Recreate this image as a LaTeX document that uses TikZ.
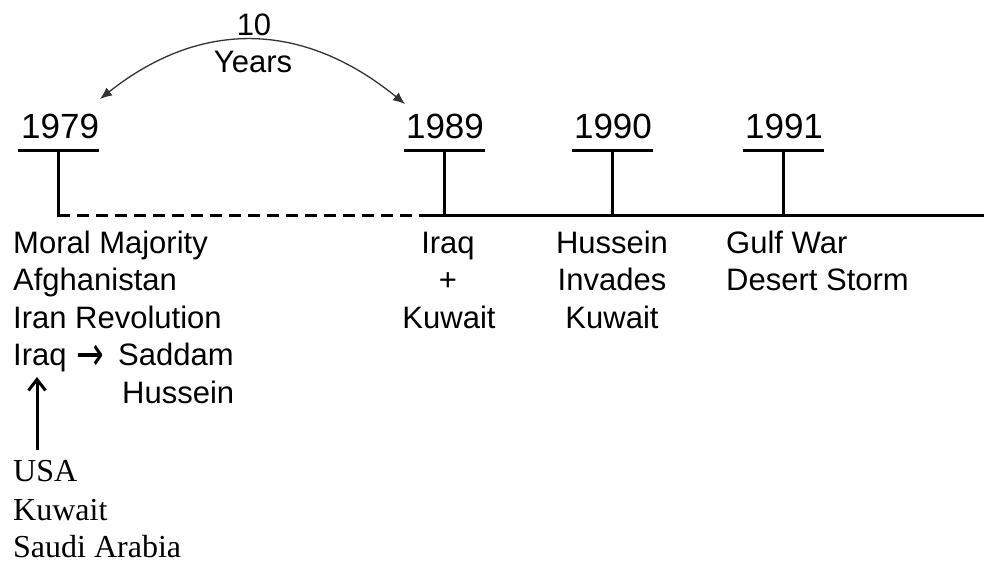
\documentclass[tikz,border=0pt]{standalone}
\usepackage{graphicx}
\usepackage{fontspec}
\setmainfont{Liberation Sans}
\newfontfamily\notesfont{Liberation Serif}
\newfontfamily\symfont{DejaVu Sans}
\usetikzlibrary{arrows.meta}

\begin{document}
\begin{tikzpicture}[x=1pt,y=-1pt,
  axisline/.style={line width=3pt},
  gapline/.style={line width=3pt, dash pattern=on 12pt off 7pt},
  yearlbl/.style={font=\fontsize{35}{40}\selectfont, inner sep=0pt, anchor=base},
  evt/.style={font=\fontsize{31}{37.5}\selectfont, inner sep=0pt, anchor=base},
  note/.style={font=\notesfont\fontsize{32}{38}\selectfont, inner sep=0pt, anchor=base west},
  spanarc/.style={line width=1.3pt, draw=black!80, {Latex[length=12pt,width=10pt]}-{Latex[length=12pt,width=10pt]}},
  uparrow/.style={line width=3pt, -{Straight Barb[length=11pt,width=17pt,line width=3pt]}}
]
\useasboundingbox (0,0) rectangle (984,563);

% axis: dashed gap 1979-1989, solid afterwards
\coordinate (ax0) at (58,215);
\coordinate (axs) at (420,215);
\coordinate (ax1) at (984,215);
\draw[gapline] (ax0) -- (axs);
\draw[axisline] (axs) -- (ax1);

% year ticks
\foreach \nm/\x in {a/58, b/444, c/612, d/783} {
  \coordinate (\nm top) at (\x,150);
  \coordinate (\nm foot) at (\x,216.5);
  \coordinate (\nm barl) at (\x-40,150);
  \coordinate (\nm barr) at (\x+41,150);
  \draw[axisline] (\nm top) -- (\nm foot);
  \draw[axisline] (\nm barl) -- (\nm barr);
}

% year labels
\node[yearlbl, anchor=base west] (y79) at (21,138) {1979};
\node[yearlbl] (y89) at (445,138) {1989};
\node[yearlbl] (y90) at (613,138) {1990};
\node[yearlbl] (y91) at (784,138) {1991};

% span between 1979 and 1989
\node[evt] (ten) at (254,35) {10};
\node[evt] (yrs) at (253,72) {Years};
\coordinate (arcl) at (100,99);
\coordinate (arcr) at (405,104);
\coordinate (arcc1) at (201,19);
\coordinate (arcc2) at (303,21);
\draw[spanarc] (arcl) .. controls (arcc1) and (arcc2) .. (arcr);

% 1979 events
\node[evt, anchor=base west] (mm) at (13,253) {Moral Majority};
\node[evt, anchor=base west] (af) at (13,290.5) {Afghanistan};
\node[evt, anchor=base west] (ir) at (13,328) {Iran Revolution};
\node[evt, anchor=base west] (iq) at (13,365.5) {Iraq};
\node[evt, anchor=west, font=\symfont\fontsize{33}{38}\selectfont] (to) at (76,358) {\scalebox{1}[1.45]{→}};
\node[evt, anchor=base west] (sd) at (118,365.5) {Saddam};
\node[evt, anchor=base west] (hs) at (122,403) {Hussein};

% supporters of Iraq
\node[note] (usa) at (13,481) {USA};
\node[note] (kw) at (13,520) {Kuwait};
\node[note] (sa) at (13,557) {Saudi Arabia};
\coordinate (upfoot) at (37,450);
\coordinate (uptip) at (37,377);
\draw[uparrow] (upfoot) -- (uptip);

% 1989 events
\node[evt] (e89a) at (448,253) {Iraq};
\node[evt] (e89b) at (448,290.5) {+};
\node[evt] (e89c) at (449,328) {Kuwait};

% 1990 events
\node[evt] (e90a) at (612,253) {Hussein};
\node[evt] (e90b) at (612,290.5) {Invades};
\node[evt] (e90c) at (612,328) {Kuwait};

% 1991 events
\node[evt, anchor=base west] (e91a) at (726,253) {Gulf War};
\node[evt, anchor=base west] (e91b) at (726,290.5) {Desert Storm};
\end{tikzpicture}
\end{document}
